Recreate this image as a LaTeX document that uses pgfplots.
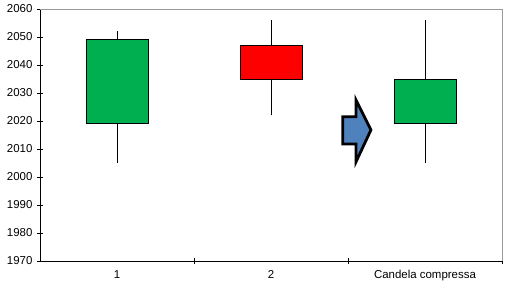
\documentclass[border=0pt]{standalone}
\usepackage{pgfplots}
\pgfplotsset{compat=1.18}
\usepackage{fontspec}
\setmainfont{Liberation Sans}
\definecolor{cgreen}{HTML}{00B050}
\definecolor{cred}{HTML}{FF0000}
\definecolor{cblue}{HTML}{4F81BD}
\begin{document}
\begin{tikzpicture}
\begin{axis}[
  scale only axis,
  width=462bp, height=252bp,
  xmin=-0.5, xmax=2.5,
  ymin=1970, ymax=2060,
  ytick distance=10,
  xtick={0,1,2},
  xticklabels={1,2,Candela compressa},
  minor xtick={0.5,1.5,2.5},
  major x tick style={draw=none},
  minor tick length=6bp,
  major tick length=6bp,
  tick align=center,
  axis x line*=bottom,
  axis y line*=left,
  axis line style={black, -},
  tick style={black, line width=0.6pt},
  every axis plot/.append style={line width=0.6pt},
  /pgf/number format/assume math mode=true,
  /pgf/number format/1000 sep={},
  tick label style={font=\fontsize{11.5}{13}\selectfont},
  yticklabel style={xshift=-1bp},
  xticklabel style={yshift=-3bp},
  clip=false,
]
% frame (top/right gray)
\draw[gray!80] (rel axis cs:0,1) -- (rel axis cs:1,1) -- (rel axis cs:1,0);
\coordinate (ll) at (rel axis cs:0,0);
\coordinate (ur) at (rel axis cs:1,1);
% wicks
\addplot[black] coordinates {(0,2005) (0,2052)};
\addplot[black] coordinates {(1,2022) (1,2056)};
\addplot[black] coordinates {(2,2005) (2,2056)};
% bodies
\addplot[fill=cgreen, draw=black] coordinates {(-0.2,2019) (0.2,2019) (0.2,2049) (-0.2,2049)} -- cycle;
\addplot[fill=cred, draw=black] coordinates {(0.8,2035) (1.2,2035) (1.2,2047) (0.8,2047)} -- cycle;
\addplot[fill=cgreen, draw=black] coordinates {(1.8,2019) (2.2,2019) (2.2,2035) (1.8,2035)} -- cycle;
% arrow
\addplot[fill=cblue, draw=black, line width=2.8pt, line join=miter] coordinates {
  (1.466,2021.5) (1.552,2021.5) (1.552,2027.5) (1.649,2016.8)
  (1.552,2005.4) (1.552,2011.8) (1.466,2011.8)} -- cycle;
\end{axis}
\pgfresetboundingbox
\path ([shift={(-40bp,-24bp)}]ll) rectangle ([shift={(10bp,9bp)}]ur);
\end{tikzpicture}
\end{document}
